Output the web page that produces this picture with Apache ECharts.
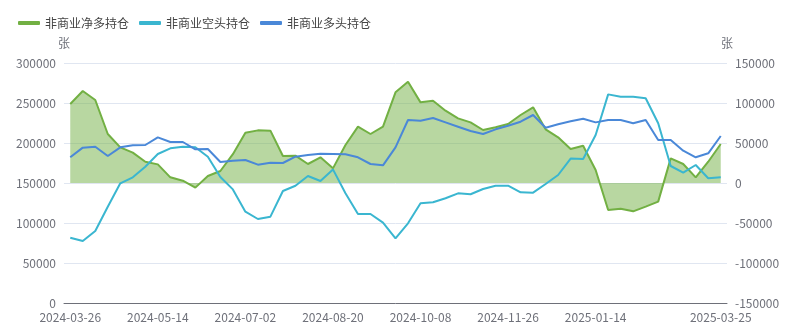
<!DOCTYPE html>
<html>
<head>
<meta charset="utf-8">
<script src="https://cdn.jsdelivr.net/npm/echarts@6/dist/echarts.min.js"></script>
<style>html,body{margin:0;padding:0;background:#fff;}#c{width:807px;height:333px;}</style>
</head>
<body>
<div id="c"></div>
<script>
const dates = ['2024-03-26','2024-04-02','2024-04-09','2024-04-16','2024-04-23','2024-04-30','2024-05-07','2024-05-14','2024-05-21','2024-05-28','2024-06-04','2024-06-11','2024-06-18','2024-06-25','2024-07-02','2024-07-09','2024-07-16','2024-07-23','2024-07-30','2024-08-06','2024-08-13','2024-08-20','2024-08-27','2024-09-03','2024-09-10','2024-09-17','2024-09-24','2024-10-01','2024-10-08','2024-10-15','2024-10-22','2024-10-29','2024-11-05','2024-11-12','2024-11-19','2024-11-26','2024-12-03','2024-12-10','2024-12-17','2024-12-24','2024-12-31','2025-01-07','2025-01-14','2025-01-21','2025-01-28','2025-02-04','2025-02-11','2025-02-18','2025-02-25','2025-03-04','2025-03-11','2025-03-18','2025-03-25'];
const netLong = [98750,115000,103750,61250,44600,37900,26600,23300,7100,2900,-5800,8750,15000,36000,62900,65800,65400,33750,34200,23750,32100,18300,47500,70400,61250,70400,113300,126600,100800,102900,90400,80800,75800,66250,69600,73750,85000,94600,67100,57100,42500,46600,16250,-33750,-32100,-35400,-29600,-23300,30800,23750,7100,26600,48750];
const shortPos = [81600,77500,90000,120400,149600,157100,170400,186250,193300,195400,194600,182900,157500,142000,114100,105000,107900,140000,146600,158750,152500,167000,137100,111250,111250,100400,80900,99600,124600,125900,130900,137100,135900,142500,146600,146600,138400,137900,148750,160000,180500,180000,210000,260800,257900,257900,255900,224600,171250,162900,172500,155900,157100];
const longPos = [182100,194200,195400,183750,194600,197100,197500,207100,201250,201250,192100,192500,176250,177900,178750,172900,175400,175000,182900,185000,186600,186250,185900,182100,173750,172100,194600,228750,227900,231250,225800,220400,215000,211250,217100,221600,226600,235000,219100,223400,227200,230400,225800,228750,228750,224600,228750,203750,203750,190400,182100,187100,208750];

const chart = echarts.init(document.getElementById('c'));
const ff = '"Noto Sans CJK SC", "Noto Sans", sans-serif';
const labelFn = (i) => (i % 7 === 0 && i < 49) || i === dates.length - 1;
const numFmt = (v) => String(v);
chart.setOption({
  animation: false,
  textStyle: { fontFamily: ff },
  color: ['#72b043', '#3ab6d0', '#4a88d8'],
  legend: {
    left: 13, top: 12, itemWidth: 22, itemHeight: 4, itemGap: 10, icon: 'roundRect',
    textStyle: { fontSize: 12, color: '#444', fontFamily: ff },
    data: ['非商业净多持仓', '非商业空头持仓', '非商业多头持仓']
  },
  grid: { left: 64, right: 80, top: 63, bottom: 30, containLabel: false },
  xAxis: {
    type: 'category', data: dates, boundaryGap: true,
    axisLine: { lineStyle: { color: '#6e7079' } },
    axisTick: { interval: (i) => i % 7 === 0, lineStyle: { color: '#6e7079' } },
    axisLabel: { interval: labelFn, color: '#6e7079', fontSize: 12, fontFamily: ff }
  },
  yAxis: [
    { type: 'value', name: '张', min: 0, max: 300000, interval: 50000,
      nameTextStyle: { color: '#6e7079', fontSize: 12, fontFamily: ff }, nameGap: 14,
      axisLabel: { color: '#6e7079', fontSize: 12, fontFamily: ff, formatter: numFmt },
      splitLine: { lineStyle: { color: '#e0e6f1' } } },
    { type: 'value', name: '张', min: -150000, max: 150000, interval: 50000,
      nameTextStyle: { color: '#6e7079', fontSize: 12, fontFamily: ff }, nameGap: 14,
      axisLabel: { color: '#6e7079', fontSize: 12, fontFamily: ff, formatter: numFmt },
      splitLine: { show: false } }
  ],
  series: [
    { name: '非商业净多持仓', type: 'line', yAxisIndex: 1, data: netLong, showSymbol: false,
      lineStyle: { width: 2 }, areaStyle: { color: '#72b043', opacity: 0.5 } },
    { name: '非商业空头持仓', type: 'line', yAxisIndex: 0, data: shortPos, showSymbol: false,
      lineStyle: { width: 2 } },
    { name: '非商业多头持仓', type: 'line', yAxisIndex: 0, data: longPos, showSymbol: false,
      lineStyle: { width: 2 } }
  ]
});
</script>
</body>
</html>
